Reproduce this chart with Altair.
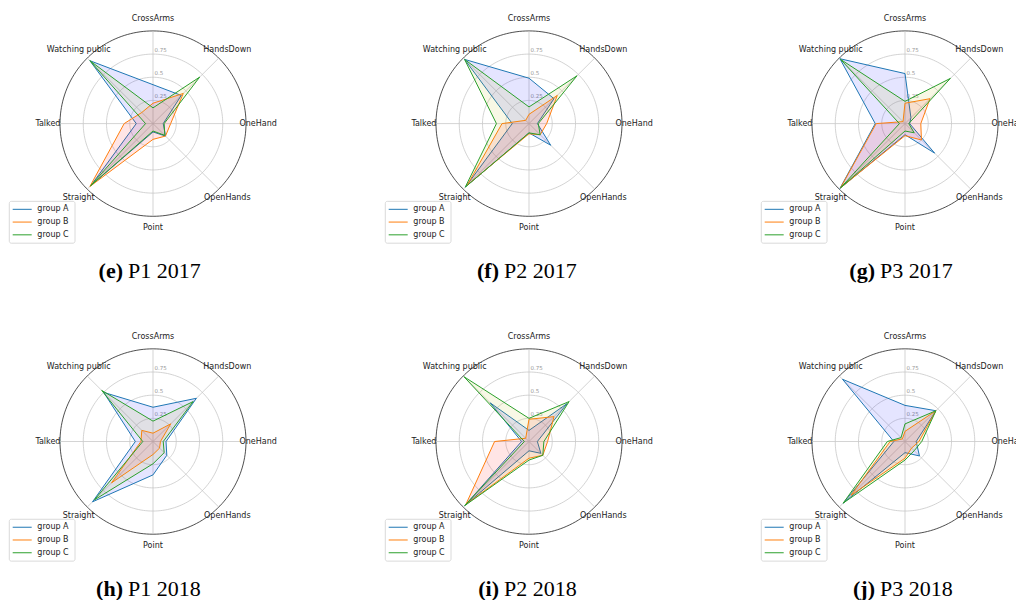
import altair as alt
import pandas as pd
import numpy as np

# ---------------- data ----------------
categories = ["CrossArms", "HandsDown", "OneHand", "OpenHands",
              "Point", "Straight", "Talked", "Watching public"]
groups = ["group A", "group B", "group C"]
panel_letters = ["e", "f", "g", "h", "i", "j"]
panel_names = ["P1 2017", "P2 2017", "P3 2017", "P1 2018", "P2 2018", "P3 2018"]
ring_values = [0.25, 0.5, 0.75]
ring_labels = ["0.25", "0.5", "0.75"]

# values in category order: CrossArms .. Watching public
e_A = [0.42, 0.43, 0.11, 0.19, 0.09, 0.94, 0.18, 0.96]
e_B = [0.22, 0.46, 0.19, 0.19, 0.17, 0.96, 0.31, 0.17]
e_C = [0.17, 0.71, 0.12, 0.18, 0.08, 0.95, 0.08, 0.96]

f_A = [0.49, 0.38, 0.09, 0.33, 0.10, 0.96, 0.18, 0.98]
f_B = [0.10, 0.43, 0.19, 0.17, 0.11, 0.94, 0.29, 0.05]
f_C = [0.18, 0.73, 0.10, 0.17, 0.10, 0.97, 0.35, 0.98]

g_A = [0.54, 0.09, 0.05, 0.45, 0.12, 0.99, 0.32, 0.99]
g_B = [0.22, 0.38, 0.17, 0.25, 0.13, 0.98, 0.31, 0.03]
g_C = [0.24, 0.69, 0.04, 0.14, 0.08, 0.98, 0.06, 0.98]

h_A = [0.37, 0.66, 0.14, 0.21, 0.36, 0.92, 0.19, 0.75]
h_B = [0.09, 0.27, 0.08, 0.10, 0.14, 0.63, 0.13, 0.17]
h_C = [0.22, 0.61, 0.11, 0.17, 0.24, 0.89, 0.11, 0.78]

i_A = [0.12, 0.58, 0.09, 0.18, 0.10, 0.97, 0.08, 0.59]
i_B = [0.24, 0.38, 0.20, 0.21, 0.18, 0.96, 0.37, 0.05]
i_C = [0.25, 0.61, 0.16, 0.21, 0.20, 0.98, 0.05, 0.99]

j_A = [0.39, 0.47, 0.12, 0.22, 0.12, 0.94, 0.12, 0.95]
j_B = [0.11, 0.47, 0.15, 0.10, 0.18, 0.82, 0.16, 0.04]
j_C = [0.19, 0.47, 0.18, 0.14, 0.20, 0.94, 0.19, 0.06]

series = [
    [e_A, e_B, e_C], [f_A, f_B, f_C], [g_A, g_B, g_C],
    [h_A, h_B, h_C], [i_A, i_B, i_C], [j_A, j_B, j_C],
]

# ---------------- tables ----------------
rows = []
for p, trio in enumerate(series):
    for gi, vals in enumerate(trio):
        for k, v in enumerate(vals):
            rows.append({"panel": p, "group": groups[gi], "gi": gi, "idx": k,
                         "cat": categories[k], "value": v})
df_vals = pd.DataFrame(rows)

df_spokes = pd.DataFrame([{"panel": p, "idx": k, "cat": c}
                          for p in range(6) for k, c in enumerate(categories)])

angles = np.arange(0, 361, 2)
df_rings = pd.DataFrame([{"panel": p, "ring": r, "deg": float(a)}
                         for p in range(6) for r in ring_values + [1.0] for a in angles])

df_ticks = pd.DataFrame([{"panel": p, "ring": r, "label": l}
                         for p in range(6) for r, l in zip(ring_values, ring_labels)])

df_panels = pd.DataFrame([{"panel": p, "letter": "(" + panel_letters[p] + ")",
                           "name": panel_names[p]} for p in range(6)])

df_leg = pd.DataFrame([{"panel": p, "group": g, "gi": gi}
                       for p in range(6) for gi, g in enumerate(groups)])

# ---------------- layout ----------------
W, H = 1008, 592
R = 93.0                 # px per unit value
XSTEP = 376.0 / R
YSTEP = 319.0 / R
X0 = 145.0 / R
Y0 = 116.0 / R
xscale = alt.Scale(domain=[-X0, W / R - X0], nice=False, zero=False)
yscale = alt.Scale(domain=[Y0 - H / R, Y0], nice=False, zero=False)

CX = f"(datum.panel % 3) * {XSTEP}"
CY = f"-floor(datum.panel / 3) * {YSTEP}"


def px(v):
    return v / R


def base(df):
    return alt.Chart(df).transform_calculate(cx=CX, cy=CY)


X = lambda f="x": alt.X(f"{f}:Q", scale=xscale, axis=None)
Y = lambda f="y": alt.Y(f"{f}:Q", scale=yscale, axis=None)

line_colors = ["#1f77b4", "#ff7f0e", "#2ca02c"]
fill_colors = ["#0000ff", "#ff0000", "#bfbf00"]

# rings (inner grey grid rings, outer dark spine)
def ring_layer(inner, color):
    cond = "datum.ring < 1" if inner else "datum.ring >= 1"
    return base(df_rings).transform_filter(cond).transform_calculate(
        th="datum.deg * PI / 180",
        x="datum.cx + datum.ring * sin(datum.th)",
        y="datum.cy + datum.ring * cos(datum.th)",
    ).mark_line(strokeWidth=0.8, color=color).encode(
        x=X(), y=Y(), detail=["panel:N", "ring:N"], order="deg:Q")

rings_in = ring_layer(True, "#c8c8c8")
rings_out = ring_layer(False, "#222222")

# spokes
spokes = base(df_spokes).transform_calculate(
    th="datum.idx * PI / 4",
    x2="datum.cx + sin(datum.th)",
    y2="datum.cy + cos(datum.th)",
).mark_rule(color="#c8c8c8", strokeWidth=0.8).encode(
    x=X("cx"), y=Y("cy"), x2="x2:Q", y2="y2:Q")

# radial tick labels
ticks = base(df_ticks).transform_calculate(
    x=f"datum.cx + {px(1.5)}",
    y=f"datum.cy + datum.ring + {px(4)}",
).mark_text(align="left", baseline="middle", fontSize=5.5, color="#999999",
            font="DejaVu Sans").encode(x=X(), y=Y(), text="label:N")

# polygons
polys = []
for gi, g in enumerate(groups):
    polys.append(
        base(df_vals).transform_filter(alt.datum.gi == gi).transform_calculate(
            th="datum.idx * PI / 4",
            x="datum.cx + datum.value * sin(datum.th)",
            y="datum.cy + datum.value * cos(datum.th)",
        ).mark_line(interpolate="linear-closed", stroke=line_colors[gi], strokeWidth=1,
                    fill=fill_colors[gi], fillOpacity=0.1).encode(
            x=X(), y=Y(), detail="panel:N", order="idx:Q")
    )

# category labels
cat_labels = base(df_spokes).transform_calculate(
    th="datum.idx * PI / 4",
    x="datum.cx + 1.13 * sin(datum.th)",
    y="datum.cy + 1.13 * cos(datum.th)",
).mark_text(align="center", baseline="middle", fontSize=8, color="#222222",
            font="DejaVu Sans", clip=True).encode(x=X(), y=Y(), text="cat:N")

# legend
leg_box = base(df_panels).transform_calculate(
    x1=f"datum.cx - {px(143.7)}", x2=f"datum.cx - {px(78)}",
    y1=f"datum.cy - {px(78)}", y2=f"datum.cy - {px(120)}",
).mark_rect(fill="white", fillOpacity=0.85, stroke="#d0d0d0", strokeWidth=0.8,
            cornerRadius=2).encode(x=X("x1"), x2="x2:Q", y=Y("y1"), y2="y2:Q")

leg_lines = []
for gi, g in enumerate(groups):
    leg_lines.append(
        base(df_leg).transform_filter(alt.datum.gi == gi).transform_calculate(
            x1=f"datum.cx - {px(140.3)}", x2=f"datum.cx - {px(121.3)}",
            y=f"datum.cy - {px(86)} - datum.gi * {px(12.8)}",
        ).mark_rule(strokeWidth=1, color=line_colors[gi]).encode(
            x=X("x1"), x2="x2:Q", y=Y())
    )

leg_text = base(df_leg).transform_calculate(
    x=f"datum.cx - {px(115.7)}",
    y=f"datum.cy - {px(86)} - datum.gi * {px(12.8)}",
).mark_text(align="left", baseline="middle", fontSize=8, color="#222222",
            font="DejaVu Sans").encode(x=X(), y=Y(), text="group:N")

# captions
cap_letter = base(df_panels).transform_calculate(
    x=f"datum.cx - {px(30)}", y=f"datum.cy - {px(148)}",
).mark_text(align="right", baseline="middle", fontSize=22, fontWeight="bold",
            font="Liberation Serif", color="#000000").encode(x=X(), y=Y(), text="letter:N")

cap_name = base(df_panels).transform_calculate(
    x=f"datum.cx - {px(25)}", y=f"datum.cy - {px(148)}",
).mark_text(align="left", baseline="middle", fontSize=22,
            font="Liberation Serif", color="#000000").encode(x=X(), y=Y(), text="name:N")

chart = alt.layer(
    rings_in, rings_out, spokes, ticks, *polys, cat_labels, leg_box, *leg_lines, leg_text,
    cap_letter, cap_name
).properties(
    width=W, height=H, padding=0, background="white",
    autosize=alt.AutoSizeParams(type="fit", contains="padding"),
).configure_view(strokeWidth=0)

chart.save("out.html", embed_options={"renderer": "svg", "actions": False})
